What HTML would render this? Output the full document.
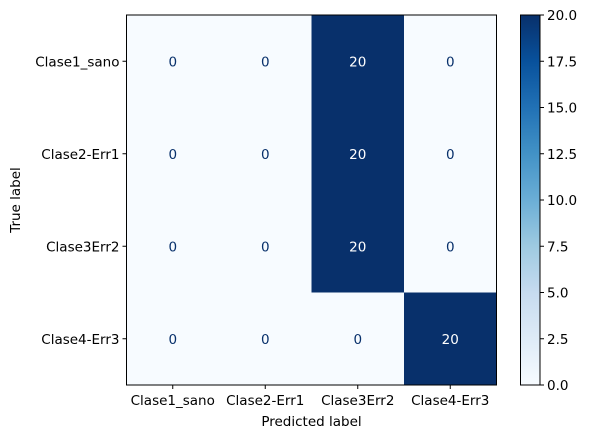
<!DOCTYPE html>
<html><head><meta charset="utf-8"><style>
body{margin:0;background:#fff;}
svg text{font-family:"DejaVu Sans","Liberation Sans",sans-serif;}
</style></head><body>
<svg id="chart" width="589" height="438" xmlns="http://www.w3.org/2000/svg">
<defs>
<linearGradient id="blues" x1="0" y1="1" x2="0" y2="0">
<stop offset="0" stop-color="#f7fbff"/><stop offset="0.125" stop-color="#deebf7"/><stop offset="0.25" stop-color="#c6dbef"/><stop offset="0.375" stop-color="#9ecae1"/><stop offset="0.5" stop-color="#6baed6"/><stop offset="0.625" stop-color="#4292c6"/><stop offset="0.75" stop-color="#2171b5"/><stop offset="0.875" stop-color="#08519c"/><stop offset="1" stop-color="#08306b"/>
</linearGradient>
</defs>
<g id="cells"></g>
<g id="axes"></g>
</svg>
<script>
const labels = ["Clase1_sano","Clase2-Err1","Clase3Err2","Clase4-Err3"];
const matrix = [[0,0,20,0],[0,0,20,0],[0,0,20,0],[0,0,0,20]];
const cbTicks = [0,2.5,5,7.5,10,12.5,15,17.5,20];
const cbTickLabels = ["0.0","2.5","5.0","7.5","10.0","12.5","15.0","17.5","20.0"];

const NS="http://www.w3.org/2000/svg";
const L=126.5,T=15,W=370,H=370,n=labels.length,cw=W/n,ch=H/n;
const vmin=0,vmax=20;
const cbL=520.5,cbW=19.5;
const FS='13.5';
const stops=[[0,[247,251,255]],[.125,[222,235,247]],[.25,[198,219,239]],[.375,[158,202,225]],[.5,[107,174,214]],[.625,[66,146,198]],[.75,[33,113,181]],[.875,[8,81,156]],[1,[8,48,107]]];
function color(v){let t=(v-vmin)/(vmax-vmin);t=Math.max(0,Math.min(1,t));
for(let i=1;i<stops.length;i++){if(t<=stops[i][0]){const a=stops[i-1],b=stops[i],f=(t-a[0])/(b[0]-a[0]);
return "rgb("+a[1].map((c,k)=>Math.round(c+(b[1][k]-c)*f)).join(",")+")";}}return "rgb(8,48,107)";}
function xs(j){return L+j*cw;} function ys(i){return T+i*ch;}
function cbY(v){return T+H-(v-vmin)/(vmax-vmin)*H;}
function mk(tag,attrs,parent,txt){const e=document.createElementNS(NS,tag);for(const k in attrs)e.setAttribute(k,attrs[k]);if(txt!==undefined)e.textContent=txt;parent.appendChild(e);return e;}
const cells=document.getElementById('cells'),axes=document.getElementById('axes');
for(let i=0;i<n;i++)for(let j=0;j<n;j++){
const v=matrix[i][j];
const r=mk('rect',{x:xs(j),y:ys(i),width:cw+0.5,height:ch+0.5,fill:color(v)},cells);


const t=mk('text',{x:xs(j)+cw/2,y:ys(i)+ch/2+5,'text-anchor':'middle','font-size':FS,fill:(v-vmin)/(vmax-vmin)>0.5?'#ffffff':'#08306b'},cells,String(v));


}
const frame=mk('rect',{x:L,y:T,width:W,height:H,fill:'none',stroke:'#000','stroke-width':1},axes);


for(let k=0;k<n;k++){
const cx=xs(k)+cw/2;
mk('line',{x1:cx,y1:T+H,x2:cx,y2:T+H+4,stroke:'#000'},axes);
const xl=mk('text',{x:cx,y:T+H+20,'text-anchor':'middle','font-size':FS,fill:'#000'},axes,labels[k]);


const cy=ys(k)+ch/2;
mk('line',{x1:L-4,y1:cy,x2:L,y2:cy,stroke:'#000'},axes);
const yl=mk('text',{x:L-7,y:cy+5,'text-anchor':'end','font-size':FS,fill:'#000'},axes,labels[k]);


}
const xt=mk('text',{x:L+W/2,y:426,'text-anchor':'middle','font-size':FS,fill:'#000'},axes,'Predicted label');


const yt=mk('text',{x:0,y:0,'text-anchor':'middle','font-size':FS,fill:'#000',transform:'translate(20,'+(T+H/2)+') rotate(-90)'},axes,'True label');


const cb=mk('rect',{x:cbL,y:T,width:cbW,height:H,fill:'url(#blues)',stroke:'#000','stroke-width':1},axes);


cbTicks.forEach((v,k)=>{const y=cbY(v);
mk('line',{x1:cbL+cbW,y1:y,x2:cbL+cbW+4,y2:y,stroke:'#000'},axes);
const tl=mk('text',{x:cbL+cbW+7,y:y+5,'font-size':FS,fill:'#000'},axes,cbTickLabels[k]);


});
</script>
</body></html>
